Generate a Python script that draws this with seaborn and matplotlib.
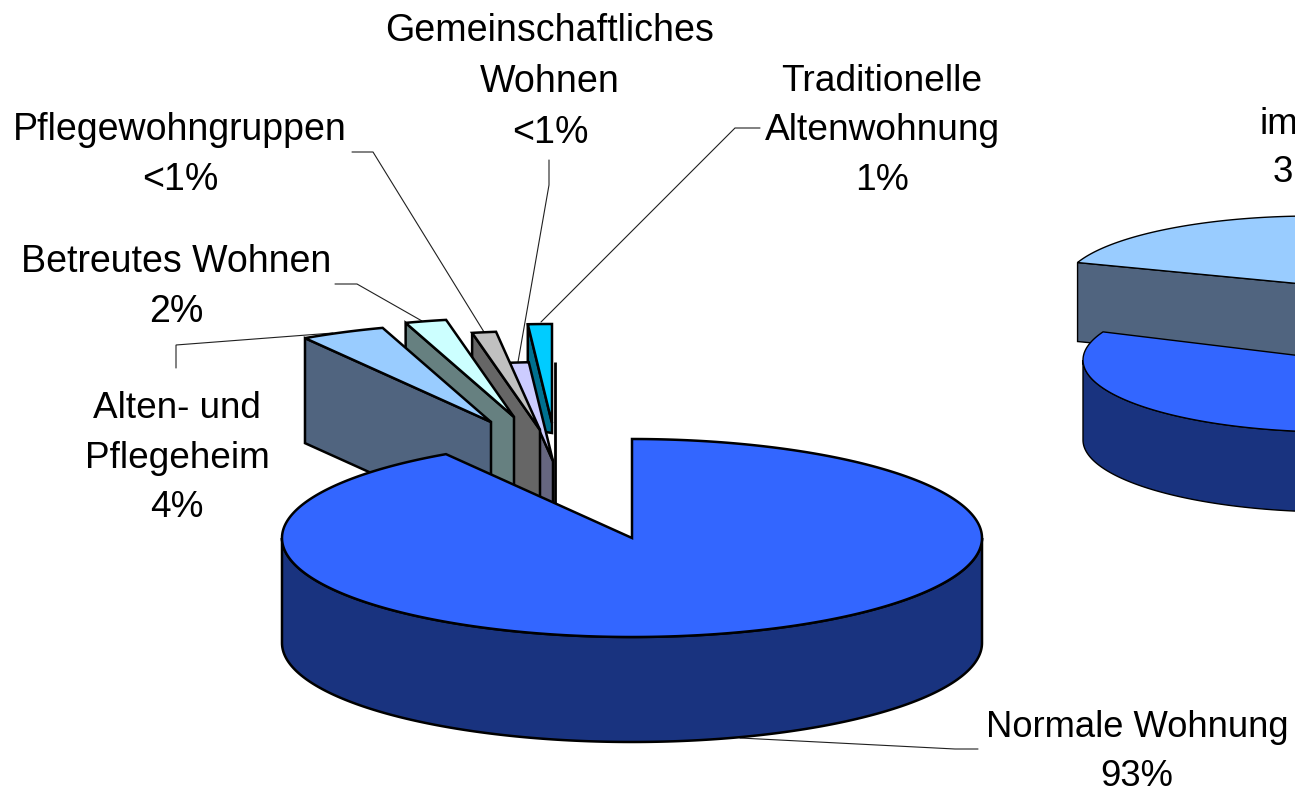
import numpy as np
import matplotlib
matplotlib.use("Agg")
import matplotlib.pyplot as plt
from matplotlib.patches import Polygon
import seaborn as sns

# --- data -------------------------------------------------------------
slice_names = ["Normale Wohnung", "Alten- und Pflegeheim", "Betreutes Wohnen",
               "Pflegewohngruppen", "Gemeinschaftliches Wohnen", "Traditionelle Altenwohnung"]
# shares as the slices appear drawn in the picture
slice_shares = [90.9, 3.9, 1.9, 1.1, 0.9, 1.1]
right_names = ["im ...", "Normale Wohnung (rechts)"]
right_shares = [40, 60]   # mostly beyond the cropped edge, estimated

top_colors = ["#3366FF", "#99CCFF", "#CCFFFF", "#C0C0C0", "#CCCCFF", "#00CCFF"]
side_colors = ["#19337F", "#50647F", "#668080", "#666666", "#666680", "#00708F"]
right_top = ["#99CCFF", "#3366FF"]
right_side = ["#50647F", "#19337F"]

labels = [
    ("Gemeinschaftliches\nWohnen\n<1%", 550, 82, 27.1),
    ("Traditionelle\nAltenwohnung\n1%", 882, 131, 26.7),
    ("Pflegewohngruppen\n<1%", 180, 155, 27.0),
    ("Betreutes Wohnen\n2%", 176, 287, 27.0),
    ("Alten- und\nPflegeheim\n4%", 177, 458, 26.6),
    ("Normale Wohnung\n93%", 1137, 752, 26.2),
]
cropped_labels = [("im", 1260, 122), ("3", 1273, 170)]

# --- layout (pixels) --------------------------------------------------
CX, CY, RX, RY, DEPTH = 632, 538, 350, 99, 105
# explosion of the small slices, relative to the apex of the big slice
explode = [(0, 0), (-141, -116), (-118, -121), (-92, -108), (-79, -77), (-80, -115)]
inner_depth = [DEPTH, DEPTH, DEPTH, DEPTH, DEPTH, 10]

sns.set_theme(style="white")
plt.rcParams["font.family"] = ["Liberation Sans", "DejaVu Sans"]

fig = plt.figure(figsize=(12.95, 7.92), dpi=100, facecolor="white")
ax = fig.add_axes([0, 0, 1, 1])
ax.set_xlim(0, 1295)
ax.set_ylim(792, 0)
ax.axis("off")


def arc(cx, cy, rx, ry, t0, t1, n=200):
    t = np.radians(np.linspace(t0, t1, n))
    return np.column_stack([cx + rx * np.cos(t), cy - ry * np.sin(t)])


def poly(pts, fc, lw, z):
    ax.add_patch(Polygon(pts, closed=True, facecolor=fc, edgecolor="black",
                         linewidth=lw, joinstyle="miter", zorder=z))


# --- left pie ---------------------------------------------------------
sweeps = np.array(slice_shares) / np.sum(slice_shares) * 360
ends = 90 - np.cumsum(sweeps)
starts = ends + sweeps
LW = 1.8

# small exploded slices, drawn from the back to the front
z = 2
for i in range(len(slice_shares) - 1, 0, -1):
    ax_tip = np.array([CX + explode[i][0], CY + explode[i][1]])
    top = arc(ax_tip[0], ax_tip[1], RX, RY, starts[i], ends[i], 30)
    left = top[0]   # the larger angle lies further left
    wall = np.array([ax_tip, left, left + [0, DEPTH], ax_tip + [0, inner_depth[i]]])
    poly(wall, side_colors[i], LW, z)
    poly(np.vstack([ax_tip, top]), top_colors[i], LW, z + 0.5)
    z += 1

# edge-on sliver right of the small slices
gem_tip = (CX + explode[4][0], CY + explode[4][1])
ax.plot([gem_tip[0] + 2, gem_tip[0] + 2], [gem_tip[1] - RY, gem_tip[1] + 50],
        color="black", lw=2, solid_capstyle="butt", zorder=z)
z += 1

# big slice
lower = arc(CX, CY, RX, RY, 180, 360)
poly(np.vstack([lower, (lower + [0, DEPTH])[::-1]]), side_colors[0], LW, z)
poly(np.vstack([[CX, CY], arc(CX, CY, RX, RY, starts[0], ends[0], 400)]), top_colors[0], LW, z + 1)

# --- right pie (mostly cropped) ---------------------------------------
r_sweeps = np.array(right_shares) / np.sum(right_shares) * 360
RLW = 1.0
# upper slice
ux, uy, urx, ury, ud = 1313, 285, 249, 69, 79
u0 = 161
u_top = arc(ux, uy, urx, ury, u0, u0 - r_sweeps[0], 200)
corner = u_top[0]
poly(np.array([[ux, uy], corner, corner + [0, ud], [ux, uy + ud]]), right_side[0], RLW, 20)
poly(np.vstack([[ux, uy], u_top]), right_top[0], RLW, 21)
# lower slice
lx, ly, lrx, lry, ld = 1335, 360, 252, 72, 80
l0 = 157
low_side = arc(lx, ly, lrx, lry, 180, l0 + r_sweeps[1], 200)
poly(np.vstack([low_side, (low_side + [0, ld])[::-1]]), right_side[1], RLW, 22)
poly(np.vstack([[lx, ly], arc(lx, ly, lrx, lry, l0, l0 + r_sweeps[1], 300)]), right_top[1], RLW, 23)

# --- leader lines -----------------------------------------------------
leaders = [
    ([740, 955, 978], [738, 749, 749]),
    ([541, 735, 760], [322, 128, 128]),
    ([518, 549, 549], [362, 185, 160]),
    ([484, 373, 352], [332, 152, 152]),
    ([422, 357, 335], [321, 284, 284]),
    ([333, 176, 176], [333, 345, 368]),
]
for xs, ys in leaders:
    ax.plot(xs, ys, color="#202020", lw=0.8, zorder=1, solid_joinstyle="miter")

# --- text -------------------------------------------------------------
for txt, x, y, fs in labels:
    ax.text(x, y, txt, ha="center", va="center", fontsize=fs, color="black",
            linespacing=1.53, zorder=30)
for txt, x, y in cropped_labels:
    ax.text(x, y + 2, txt, ha="left", va="center", fontsize=26.5, color="black", zorder=30)

fig.savefig("out.png", dpi=100)
